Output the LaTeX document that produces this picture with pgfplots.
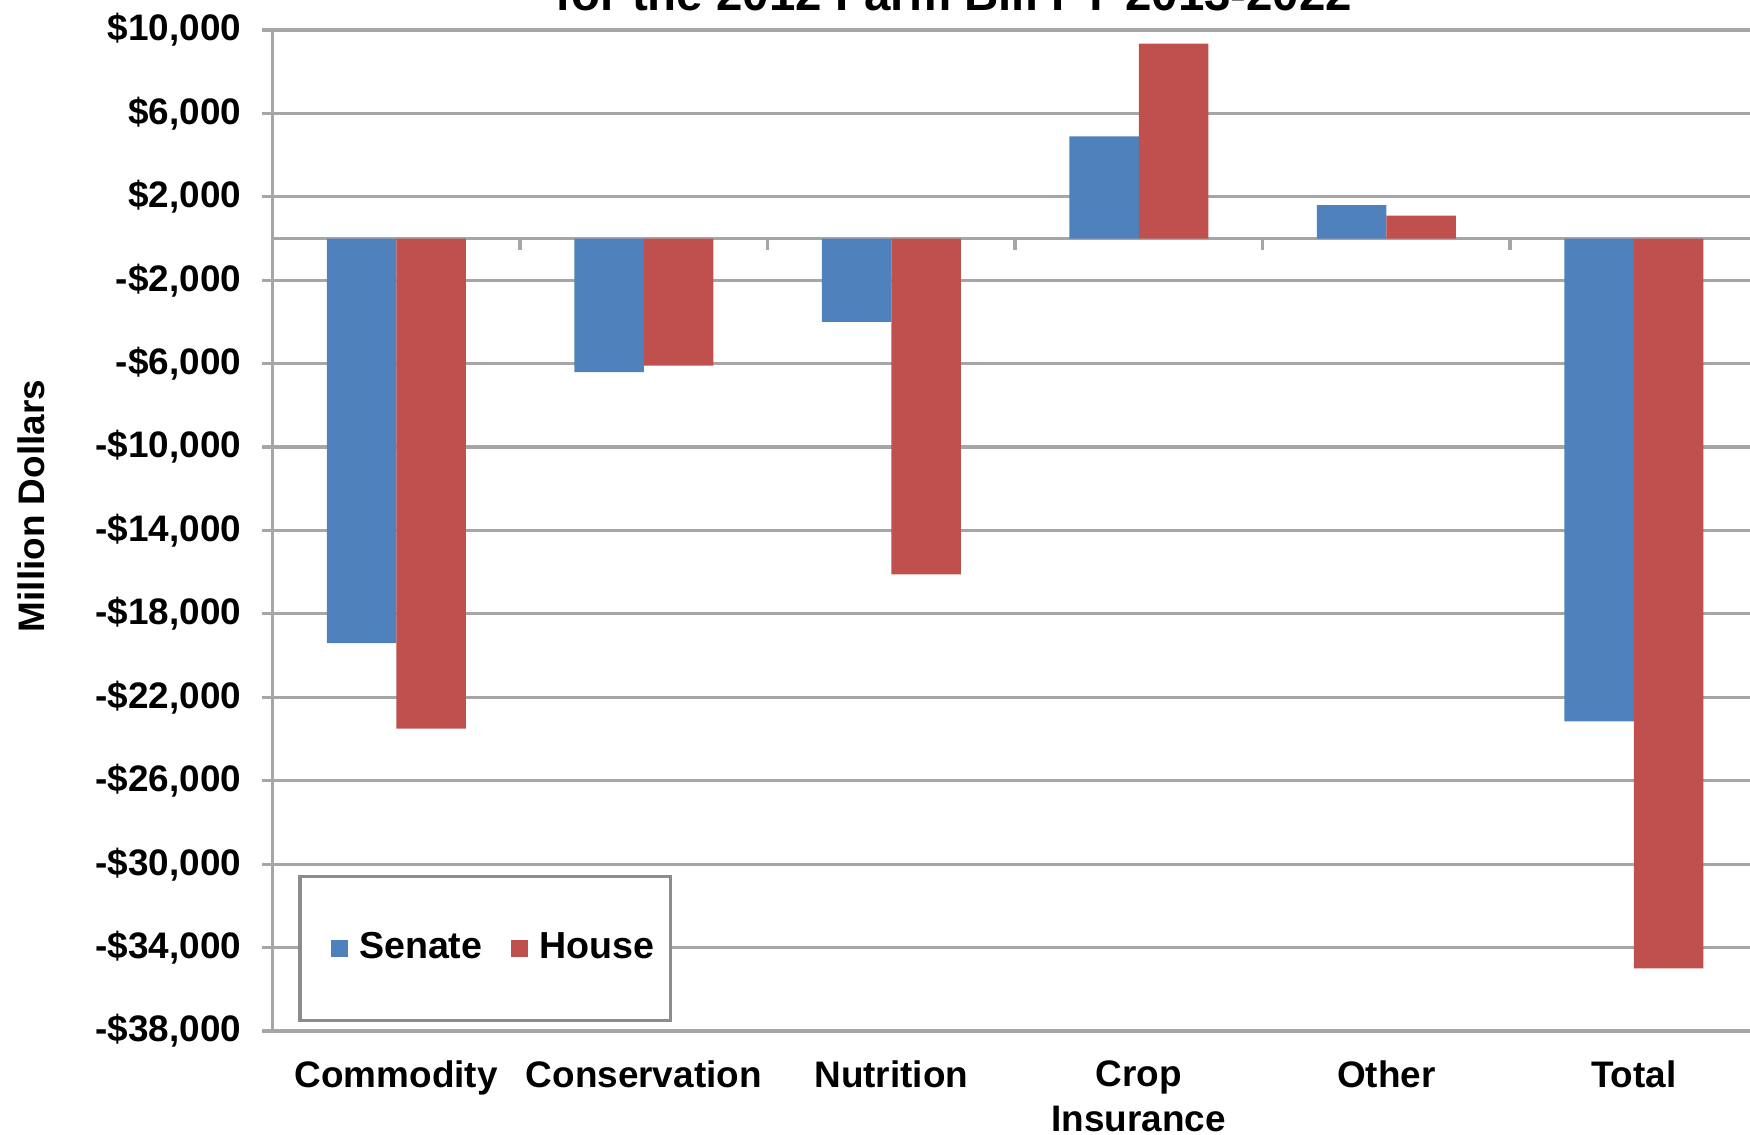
\documentclass[border=0pt]{standalone}
\usepackage{fontspec}
\setmainfont{Liberation Sans}
\usepackage{pgfplots}
\pgfplotsset{compat=1.18}
\definecolor{senate}{HTML}{4F81BD}
\definecolor{house}{HTML}{C0504D}
\definecolor{gridc}{HTML}{A6A6A6}
\definecolor{legc}{HTML}{8C8C8C}
\begin{document}
\begin{tikzpicture}
\begin{axis}[
  at={(27.25mm,110.4mm)}, anchor=north west,
  scale only axis, width=148.5mm, height=100.1mm,
  ybar=0pt, bar width=6.95mm,
  xmin=-0.5, xmax=5.5, ymin=-38000, ymax=10000,
  xtick={0,1,2,3,4,5},
  xticklabels={Commodity,Conservation,Nutrition,{Crop\\Insurance},Other,Total},
  xticklabel style={align=center, font=\fontsize{10.5}{12.7}\selectfont\bfseries, yshift=-0.65mm},
  x tick style={draw=none},
  ytick={-38000,-34000,...,10000},
  yticklabels={{-\$38,000},{-\$34,000},{-\$30,000},{-\$26,000},{-\$22,000},{-\$18,000},{-\$14,000},{-\$10,000},{-\$6,000},{-\$2,000},{\$2,000},{\$6,000},{\$10,000}},
  yticklabel style={font=\fontsize{10.5}{12}\selectfont\bfseries, xshift=-0.8mm},
  ymajorgrids, grid style={gridc, line width=0.9pt},
  axis x line*=bottom, x axis line style={draw=none},
  axis y line*=left, y axis line style={gridc, line width=0.9pt, -},
  y tick style={gridc, line width=0.9pt},
  tick align=outside, major tick length=1.1mm,
  extra y ticks={0}, extra y tick labels={},
  extra y tick style={grid style={gridc, line width=1.1pt}, major tick length=0pt},
  legend columns=2,
  legend style={at={(0.0175,0.0093)}, anchor=south west, draw=legc, line width=0.9pt,
    inner xsep=0.9mm, inner ysep=4.9mm, font=\fontsize{10.7}{12}\selectfont\bfseries},
  legend image code/.code={\path (0mm,0mm); \fill[#1,draw=none] (2.2mm,-0.85mm) rectangle (3.9mm,0.85mm); \path (4.3mm,0mm);},
]
\addplot[fill=senate, draw=none] coordinates {(0,-19400) (1,-6400) (2,-4000) (3,4900) (4,1600) (5,-23150)};
\addplot[fill=house, draw=none] coordinates {(0,-23500) (1,-6100) (2,-16100) (3,9350) (4,1100) (5,-35000)};
\legend{Senate,House}
\pgfplotsinvokeforeach{0.5,1.5,2.5,3.5,4.5}{
  \draw[gridc, line width=0.9pt] (axis cs:#1,0) -- ([yshift=-1.1mm]axis cs:#1,0);
}
\end{axis}
\node[anchor=base, font=\fontsize{13.5}{16}\selectfont\bfseries] at (95.4mm,112.3mm) {for the 2012 Farm Bill FY 2013-2022};
\node[rotate=90, font=\fontsize{10.5}{12}\selectfont\bfseries] at (3.1mm,62.8mm) {Million Dollars};
\pgfresetboundingbox
\useasboundingbox (0,0) rectangle (175mm,113.4mm);
\end{tikzpicture}
\end{document}
